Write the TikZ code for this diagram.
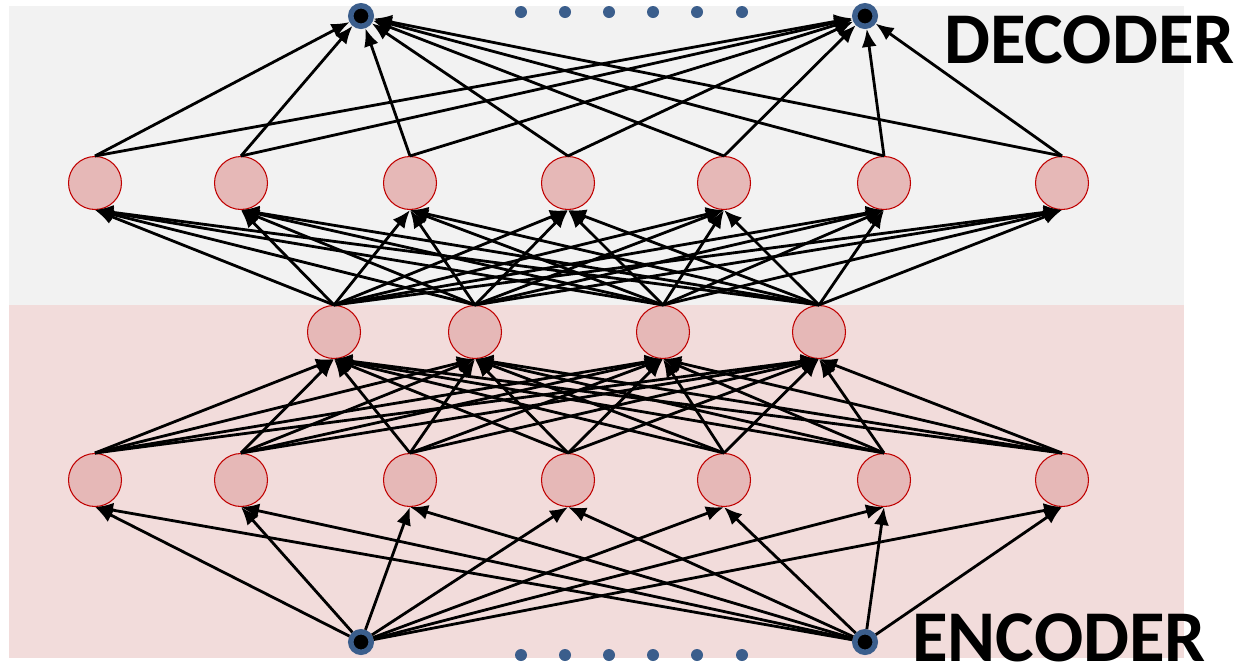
\documentclass[tikz,border=0pt]{standalone}
\usepackage{fontspec}
\setmainfont{Carlito}
\usetikzlibrary{arrows.meta}

\definecolor{bgtop}{HTML}{F2F2F2}
\definecolor{bgbot}{HTML}{F2DCDB}
\definecolor{nodefill}{HTML}{E6B8B7}
\definecolor{nodeline}{HTML}{C00000}
\definecolor{ringblue}{HTML}{3B5E8C}

\begin{document}
\begin{tikzpicture}[x=0.02cm,y=-0.02cm,
  neuron/.style={circle,fill=nodefill,draw=nodeline,line width=0.6pt,minimum size=1.06cm,inner sep=0pt},
  unit/.style={circle,fill=black,draw=ringblue,line width=0.11cm,minimum size=0.41cm,inner sep=0pt},
  dotpt/.style={circle,fill=ringblue,minimum size=0.24cm,inner sep=0pt},
  link/.style={line width=1.6pt,-{Latex[length=3.6mm,width=3mm]}},
  title/.style={font=\bfseries\fontsize{41.5}{41.5}\selectfont,inner sep=0pt,anchor=base west}]

\useasboundingbox (0,0) rectangle (1241,667);

% Fonds
\fill[bgtop] (9,6) rectangle (1184,305);
\fill[bgbot] (9,305) rectangle (1184,658);

% Couches
\foreach \x [count=\i] in {95,241,410,568,724,884,1062}
{
\node[neuron] (e\i) at (\x,480) {};
\node[neuron] (d\i) at (\x,183) {};
}

\foreach \x [count=\i] in {334,475,663,819}
{
\node[neuron] (h\i) at (\x,332) {};
}

% Entrees et sorties
\node[unit] (in1) at (361,642) {};
\node[unit] (in2) at (865,642) {};
\node[unit] (out1) at (361,16) {};
\node[unit] (out2) at (865,16) {};

\foreach \x [count=\i] in {521,565,609,653,697,742}
{
\node[dotpt] (bd\i) at (\x,655) {};
\node[dotpt] (td\i) at (\x,12) {};
}

% Liaisons
\foreach \i in {1,2}
\foreach \j in {1,...,7}
{
\draw[link] (in\i) -- (e\j.south);
}

\foreach \i in {1,...,7}
\foreach \j in {1,...,4}
{
\draw[link] (e\i.north) -- (h\j.south);
}

\foreach \i in {1,...,4}
\foreach \j in {1,...,7}
{
\draw[link] (h\i.north) -- (d\j.south);
}

\foreach \i in {1,...,7}
\foreach \j in {1,2}
{
\draw[link] (d\i.north) -- (out\j);
}

% Titres
\node[title] (dec) at (944,63) {DECODER};
\node[title] (enc) at (912,661) {ENCODER};

\end{tikzpicture}
\end{document}
